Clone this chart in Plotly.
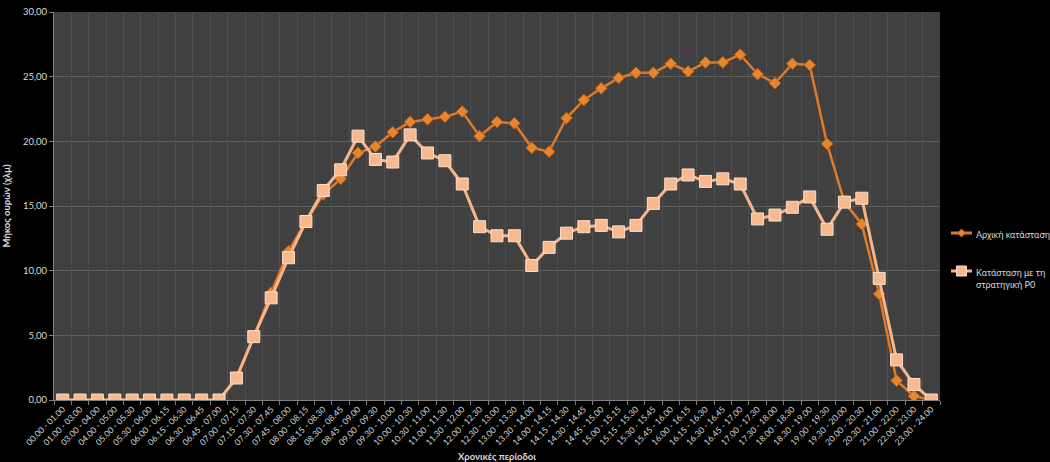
import plotly.graph_objects as go

periods = [
    "00.00 - 01.00", "01.00 - 03.00", "03.00 - 04.00", "04.00 - 05.00", "05.00 - 05.30",
    "05.30 - 06.00", "06.00 - 06.15", "06.15 - 06.30", "06.30 - 06.45", "06.45 - 07.00",
    "07.00 - 07.15", "07.15 - 07.30", "07.30 - 07.45", "07.45 - 08.00", "08.00 - 08.15",
    "08.15 - 08.30", "08.30 - 08.45", "08.45 - 09.00", "09.00 - 09.30", "09.30 - 10.00",
    "10.00 - 10.30", "10.30 - 11.00", "11.00 - 11.30", "11.30 - 12.00", "12.00 - 12.30",
    "12.30 - 13.00", "13.00 - 13.30", "13.30 - 14.00", "14.00 - 14.15", "14.15 - 14.30",
    "14.30 - 14.45", "14.45 - 15.00", "15.00 - 15.15", "15.15 - 15.30", "15.30 - 15.45",
    "15.45 - 16.00", "16.00 - 16.15", "16.15 - 16.30", "16.30 - 16.45", "16.45 - 17.00",
    "17.00 - 17.30", "17.30 - 18.00", "18.00 - 18.30", "18.30 - 19.00", "19.00 - 19.30",
    "19.30 - 20.00", "20.00 - 20.30", "20.30 - 21.00", "21.00 - 22.00", "22.00 - 23.00",
    "23.00 - 24.00",
]

initial_state = [
    0, 0, 0, 0, 0, 0, 0, 0, 0, 0,
    1.7, 4.9, 8.3, 11.5, 13.8, 15.9, 17.1, 19.1, 19.6, 20.7,
    21.5, 21.7, 21.9, 22.3, 20.4, 21.5, 21.4, 19.5, 19.2, 21.8,
    23.2, 24.1, 24.9, 25.3, 25.3, 26.0, 25.4, 26.1, 26.1, 26.7,
    25.2, 24.5, 26.0, 25.9, 19.8, 15.3, 13.6, 8.2, 1.5, 0.3,
    0,
]

strategy_p0 = [
    0, 0, 0, 0, 0, 0, 0, 0, 0, 0,
    1.7, 4.9, 7.9, 11.0, 13.8, 16.2, 17.8, 20.4, 18.6, 18.4,
    20.5, 19.1, 18.5, 16.7, 13.4, 12.7, 12.7, 10.4, 11.8, 12.9,
    13.4, 13.5, 13.0, 13.5, 15.2, 16.7, 17.4, 16.9, 17.1, 16.7,
    14.0, 14.3, 14.9, 15.7, 13.2, 15.3, 15.6, 9.4, 3.1, 1.2,
    0,
]

series_names = ["Αρχική κατάσταση", "Κατάσταση με τη<br>στρατηγική P0"]
y_ticks = [0, 5, 10, 15, 20, 25, 30]

text_col = "#d9d9d9"
font_family = "Lato, 'Open Sans', sans-serif"

W, H = 1050, 462
M_L, M_R, M_T, M_B = 54, 110, 12, 62

orange_line = "#E07A28"
orange_fill = "#E8852F"
orange_edge = "#B85F18"
peach_line = "#F6B48C"
peach_fill = "#F8B98F"
peach_edge = "#FCE0CC"

fig = go.Figure()

fig.add_trace(go.Scatter(
    x=periods, y=initial_state, mode="lines+markers",
    name=series_names[0],
    line=dict(color=orange_line, width=2.5),
    marker=dict(symbol="diamond", size=9, color=orange_fill,
                line=dict(color=orange_edge, width=1)),
))

fig.add_trace(go.Scatter(
    x=periods, y=strategy_p0, mode="lines+markers",
    name=series_names[1],
    line=dict(color=peach_line, width=3),
    marker=dict(symbol="square", size=12, color=peach_fill,
                line=dict(color=peach_edge, width=1)),
))

# Legend drawn by hand in the right margin (pixel positions -> paper units)
plot_w = W - M_L - M_R
plot_h = H - M_T - M_B


def px_x(px):
    return (px - M_L) / plot_w


def px_y(py):
    return (H - M_B - py) / plot_h


legend_rows = [
    dict(y=233, name=series_names[0], line=orange_line, fill=orange_fill,
         edge=orange_edge, kind="diamond"),
    dict(y=271, name=series_names[1], line=peach_line, fill=peach_fill,
         edge=peach_edge, kind="square"),
]

shapes = []
annotations = []
for row in legend_rows:
    shapes.append(dict(type="line", xref="paper", yref="paper",
                       x0=px_x(951), x1=px_x(972), y0=px_y(row["y"]), y1=px_y(row["y"]),
                       line=dict(color=row["line"], width=3)))
    cx, cy = 961.5, row["y"]
    if row["kind"] == "diamond":
        r = 4
        path = (f"M {px_x(cx)} {px_y(cy - r)} L {px_x(cx + r)} {px_y(cy)} "
                f"L {px_x(cx)} {px_y(cy + r)} L {px_x(cx - r)} {px_y(cy)} Z")
        shapes.append(dict(type="path", xref="paper", yref="paper", path=path,
                           fillcolor=row["fill"], line=dict(color=row["edge"], width=1)))
    else:
        r = 5
        shapes.append(dict(type="rect", xref="paper", yref="paper",
                           x0=px_x(cx - r), x1=px_x(cx + r), y0=px_y(cy + r), y1=px_y(cy - r),
                           fillcolor=row["fill"], line=dict(color=row["edge"], width=1)))
    annotations.append(dict(
        xref="paper", yref="paper", x=px_x(974), y=px_y(row["y"] - 6),
        xanchor="left", yanchor="top", align="left", showarrow=False,
        text=row["name"], font=dict(size=9, color=text_col, family=font_family),
    ))

fig.update_layout(
    width=W, height=H,
    paper_bgcolor="#000000",
    plot_bgcolor="#404040",
    margin=dict(l=M_L, r=M_R, t=M_T, b=M_B, autoexpand=False),
    separators=", ",
    font=dict(family=font_family, color=text_col, size=9),
    showlegend=False,
    shapes=shapes,
    annotations=annotations,
    xaxis=dict(
        type="category",
        automargin=False,
        range=[-0.5, len(periods) - 0.5],
        tickson="boundaries",
        showgrid=True, gridcolor="#4d4d4d", gridwidth=1,
        ticks="outside", ticklen=4, tickcolor="#808080",
        showline=True, linecolor="#808080", linewidth=1,
        tickangle=-45,
        tickfont=dict(size=8.5, color=text_col),
        title=dict(text="<b>Χρονικές περίοδοι</b>", font=dict(size=9.5, color=text_col), standoff=8),
    ),
    yaxis=dict(
        automargin=False,
        range=[0, 30],
        tickvals=y_ticks,
        tickformat=".2f",
        showgrid=True, gridcolor="#5e5e5e", gridwidth=1,
        ticks="outside", ticklen=4, tickcolor="#808080",
        showline=True, linecolor="#808080", linewidth=1,
        zeroline=False,
        tickfont=dict(size=9.5, color=text_col),
        title=dict(text="<b>Μήκος ουρών (χλμ)</b>", font=dict(size=9.5, color=text_col), standoff=10),
    ),
)

fig.write_html("out.html")
